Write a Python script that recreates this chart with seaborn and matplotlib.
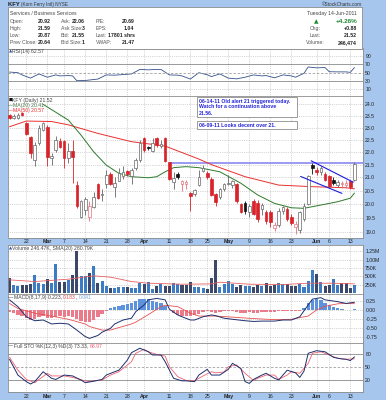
import numpy as np
import matplotlib
matplotlib.use("Agg")
import matplotlib.pyplot as plt
from matplotlib.patches import Rectangle
from matplotlib.ticker import FixedLocator, NullLocator, FixedFormatter
import seaborn as sns

sns.set_theme(style="white")
plt.rcParams['font.family'] = ['Liberation Sans', 'DejaVu Sans']

# ---------------- data ----------------
tick_pos = [4, 9, 13, 18, 23, 28, 32, 38, 43, 47, 52, 57, 62, 67, 73, 76, 81]
tick_labels = ["22", "Mar", "7", "14", "21", "28", "Apr", "11", "18", "25",
               "May", "9", "16", "23", "Jun", "6", "13"]
month_names = ["Mar", "Apr", "May", "Jun"]

opens = [23.53, 23.42, 23.42, 23.62, 23.18, 22.61, 21.69, 22.36, 22.90, 23.04,
         21.75, 22.08, 22.44, 22.44, 21.75, 22.04, 20.71, 19.54, 19.78, 19.54,
         19.90, 20.74, 20.33, 20.74, 21.15, 20.62, 20.87, 21.07, 21.24, 21.05,
         21.38, 21.69, 22.55, 22.20, 22.05, 22.55, 22.24, 22.55, 21.60, 20.82,
         21.15, 20.77, 20.77, 20.42, 20.37, 20.70, 21.25, 21.18, 20.95, 20.36,
         20.26, 20.55, 20.74, 20.70, 20.75, 20.00, 20.05, 19.72, 20.12, 20.05,
         19.82, 19.72, 19.70, 19.15, 19.24, 19.75, 19.82, 19.55, 19.20, 19.07,
         19.47, 20.02, 21.50, 21.27, 21.20, 21.12, 21.05, 20.92, 20.70, 20.74,
         20.73, 20.85, 20.92]
highs = [23.58, 23.60, 23.62, 23.68, 23.22, 22.65, 22.40, 23.10, 23.25, 23.10,
         21.95, 22.65, 22.55, 22.50, 22.35, 22.50, 20.85, 20.15, 20.25, 20.12,
         20.45, 20.80, 20.57, 21.30, 21.20, 21.00, 21.35, 21.45, 21.30, 21.35,
         21.75, 22.50, 22.62, 22.25, 22.57, 22.60, 22.50, 22.60, 21.62, 21.20,
         21.20, 20.90, 20.90, 20.45, 20.58, 21.30, 21.50, 21.25, 21.00, 20.40,
         20.60, 20.80, 21.10, 20.90, 20.80, 20.05, 20.10, 20.00, 20.18, 20.15,
         20.05, 19.80, 19.78, 19.35, 19.85, 19.95, 19.90, 19.65, 19.40, 19.75,
         20.05, 21.10, 21.58, 21.40, 21.45, 21.20, 21.10, 21.00, 20.90, 20.85,
         20.90, 20.90, 21.59]
lows = [23.35, 23.35, 23.38, 23.48, 22.70, 21.75, 21.45, 22.30, 22.85, 21.45,
        21.50, 22.00, 22.15, 21.38, 21.55, 20.80, 19.85, 19.50, 19.60, 19.39,
        19.85, 20.20, 20.10, 20.60, 20.70, 20.26, 20.85, 20.95, 21.05, 20.75,
        21.30, 21.60, 22.00, 22.10, 22.00, 22.20, 22.15, 21.60, 20.90, 20.55,
        20.95, 20.50, 20.55, 19.77, 20.30, 20.68, 21.20, 20.95, 20.30, 19.95,
        20.20, 20.50, 20.70, 20.60, 20.05, 19.68, 19.65, 19.55, 19.60, 19.35,
        19.60, 19.30, 19.20, 19.05, 19.20, 19.65, 19.40, 19.25, 18.95, 18.98,
        19.40, 19.98, 21.15, 21.10, 21.10, 20.85, 20.62, 20.70, 20.62, 20.60,
        20.60, 20.55, 20.87]
closes = [23.40, 23.50, 23.55, 23.52, 22.74, 21.96, 22.28, 23.00, 23.18, 21.82,
          21.85, 22.48, 22.22, 21.77, 22.04, 21.80, 19.92, 20.12, 20.19, 19.95,
          20.26, 20.24, 20.37, 21.11, 20.74, 20.80, 21.18, 21.22, 21.13, 21.27,
          21.69, 22.36, 22.08, 22.16, 22.36, 22.28, 22.34, 21.65, 20.95, 20.98,
          21.03, 20.86, 20.84, 20.32, 20.51, 21.03, 21.35, 21.02, 20.35, 20.08,
          20.55, 20.74, 20.80, 20.85, 20.10, 19.72, 19.75, 19.92, 19.65, 19.48,
          19.97, 19.38, 19.35, 19.24, 19.77, 19.88, 19.47, 19.33, 19.28, 19.70,
          19.95, 21.05, 21.37, 21.22, 21.38, 20.92, 20.67, 20.80, 20.84, 20.80,
          20.79, 20.64, 21.52]
volumes_k = [450, 250, 210, 250, 260, 270, 530, 320, 270, 430,
             320, 870, 350, 330, 400, 550, 1270, 520, 500, 600,
             820, 320, 380, 220, 150, 170, 180, 200, 190, 170,
             160, 300, 270, 350, 130, 230, 270, 220, 230, 300,
             280, 260, 250, 340, 190, 180, 150, 140, 460, 980,
             200, 270, 370, 280, 200, 250, 230, 210, 200, 260,
             220, 300, 210, 250, 300, 270, 270, 230, 220, 280,
             200, 370, 680, 580, 330, 230, 250, 420, 240, 320,
             310, 150, 246]

ma20_x = [8, 14, 17, 20, 23, 26, 29, 33, 35, 37, 39, 42, 45, 50, 55, 59, 63, 67, 70, 74, 78, 81, 82]
ma20_y = [24.0, 23.32, 22.69, 22.01, 21.48, 21.16, 21.03, 20.99, 21.03, 21.22, 21.38, 21.42,
          21.38, 21.22, 20.78, 20.34, 20.03, 19.87, 19.85, 19.97, 20.09, 20.22, 20.41]
ma50_x = [0, 4, 10, 14, 21, 29, 37, 45, 48, 56, 64, 72, 80, 82]
ma50_y = [23.04, 23.28, 23.26, 23.12, 22.76, 22.42, 22.24, 21.72, 21.5, 21.03, 20.71, 20.65, 20.61, 20.57]

rsi_x = [0, 2, 3, 5, 7, 9, 11, 12, 14, 15, 16, 18, 21, 23, 25, 27, 29, 31, 33, 35, 36, 38,
         40, 41, 43, 45, 47, 48, 50, 52, 54, 56, 58, 60, 61, 63, 65, 67, 68, 70, 71, 73,
         75, 76, 78, 80, 81, 82]
rsi_y = [51.6, 50, 44.6, 36.8, 47, 39, 44.6, 42.2, 43, 42.2, 30.5, 31, 34.5, 44.6, 44, 45.5,
         47, 58, 57, 58, 58, 44.6, 44, 42.2, 34.5, 50, 45, 40.6, 47, 36.8, 35, 39, 44.6,
         42.2, 43, 37.6, 44.6, 42.2, 39, 48.5, 64, 61.8, 62.6, 52.4, 52, 52, 50.8, 62.57]

vsma_x = [0, 6, 14, 20, 24, 29, 33, 41, 48, 50, 57, 65, 71, 77, 82]
vsma_y = [400, 350, 420, 520, 480, 350, 300, 270, 280, 330, 270, 260, 300, 300, 280.79]

macd_x = [0, 2, 4, 6, 8, 10, 12, 14, 16, 18, 19, 21, 22, 24, 25, 27, 29, 30, 32, 33, 35,
          37, 38, 40, 41, 43, 44, 46, 48, 49, 51, 53, 56, 58, 60, 63, 65, 67, 69, 71, 72,
          74, 75, 78, 80, 82]
macd_y = [0.29, 0.10, -0.18, -0.29, -0.27, -0.38, -0.36, -0.38, -0.55, -0.73, -0.78, -0.70,
          -0.61, -0.50, -0.38, -0.27, -0.22, -0.04, 0.15, 0.29, 0.33, 0.29, 0.03, -0.13,
          -0.18, -0.27, -0.27, -0.18, -0.13, -0.15, -0.22, -0.25, -0.29, -0.31, -0.30,
          -0.30, -0.27, -0.27, -0.18, 0.15, 0.31, 0.35, 0.29, 0.24, 0.19, 0.223]
sig_x = [0, 2, 6, 10, 14, 18, 19, 22, 24, 26, 29, 30, 33, 36, 37, 40, 43, 45, 49, 53, 58,
         63, 67, 71, 73, 75, 78, 80, 82]
sig_y = [0.19, 0.05, -0.08, -0.16, -0.25, -0.38, -0.45, -0.55, -0.55, -0.48, -0.38, -0.33,
         -0.12, 0.10, 0.14, 0.10, -0.08, -0.16, -0.16, -0.19, -0.23, -0.26, -0.25, -0.16,
         0.01, 0.11, 0.18, 0.19, 0.183]
macd_hist = [-0.06, -0.08, -0.12, -0.15, -0.22, -0.28, -0.25, -0.20, -0.17, -0.21,
             -0.22, -0.18, -0.17, -0.20, -0.17, -0.18, -0.25, -0.30, -0.33, -0.33,
             -0.28, -0.20, -0.10, -0.02, 0.05, 0.09, 0.13, 0.16, 0.17, 0.19,
             0.25, 0.30, 0.32, 0.31, 0.27, 0.24, 0.20, 0.12, 0.0, -0.08,
             -0.12, -0.15, -0.16, -0.17, -0.14, -0.10, -0.05, -0.03, -0.05, -0.07,
             -0.05, -0.03, -0.02, -0.03, -0.05, -0.07, -0.07, -0.06, -0.07, -0.08,
             -0.05, -0.05, -0.05, -0.04, -0.02, -0.01, -0.02, -0.02, -0.02, -0.01,
             0.05, 0.20, 0.28, 0.30, 0.28, 0.20, 0.14, 0.10, 0.07, 0.04,
             0.02, 0.02, 0.041]

stok_x = [0, 2, 4, 5, 6, 8, 10, 11, 13, 15, 17, 18, 20, 22, 23, 25, 26, 28, 29, 31, 33, 34,
          36, 37, 39, 41, 42, 44, 45, 47, 48, 50, 52, 53, 55, 56, 57, 58, 60, 61, 63, 64,
          66, 68, 69, 70, 71, 73, 75, 77, 79, 80, 81, 82]
stok_y = [67.9, 32, 17, 11.6, 17, 39.6, 24.6, 22, 32, 30, 20.7, 14.6, 18, 22, 32, 39.6, 43,
          66, 83, 93, 85, 77.7, 77.7, 62.4, 24.6, 18.8, 18.8, 17, 32, 45, 32, 32, 45, 58.7,
          47, 17, 13, 22, 32, 36, 24.6, 21, 43, 37, 26.6, 41, 81.5, 87.5, 85, 72.4, 68.7,
          68, 65, 73.33]
stod_x = [0, 2, 4, 6, 7, 9, 10, 13, 15, 18, 19, 22, 24, 26, 29, 30, 32, 33, 35, 37, 38, 40,
          42, 44, 46, 48, 49, 51, 52, 54, 56, 58, 59, 61, 63, 64, 66, 67, 69, 71, 72, 74,
          76, 78, 80, 82]
stod_y = [72.5, 43, 22, 14.6, 22, 36, 30, 30, 26.6, 18.8, 17, 20.7, 32, 39.6, 62.4, 81.5,
          90.8, 85, 79, 75.3, 51, 28.3, 19.6, 19, 30, 39.6, 37, 39, 51, 55, 36, 19.6, 24.6,
          32, 32, 22, 32, 39.6, 36, 58.7, 81.5, 85, 77.7, 70, 68, 68.97]

alert_level = 21.56
alert_start = 38
flag_up_x = [71.7, 81.7]
flag_up_y = [21.65, 20.82]
flag_lo_x = [69.2, 79.0]
flag_lo_y = [21.04, 20.40]

price_ticks = [19.0, 19.5, 20.0, 20.5, 21.0, 21.5, 22.0, 22.5, 23.0, 23.5, 24.0]
vol_ticks = [250, 500, 750, 1000, 1250]
vol_tick_labels = ["250K", "500K", "750K", "1.00M", "1.25M"]
macd_ticks = [0.25, 0.0, -0.25, -0.5, -0.75]
rsi_ticks = [90, 70, 50, 30, 10]
sto_ticks = [80, 50, 20]

# ---------------- layout ----------------
W, H = 386, 400
BLUE = '#a6c6ee'
fig = plt.figure(figsize=(W / 100, H / 100), dpi=100)
fig.patch.set_facecolor(BLUE)

X0, X1 = 7.5, 362.5
PX0, PXD = 9.5, 4.207
XL = ((X0 - PX0) / PXD, (X1 - PX0) / PXD)
FS = 3.7
TXT = '#222222'
GRID = '#b0b0b0'


def fx(x):
    return x / W


def fy(y):
    return 1 - y / H


def panel(top, bot):
    ax = fig.add_axes([fx(X0), fy(bot), (X1 - X0) / W, (bot - top) / H])
    ax.set_facecolor('white')
    for s in ax.spines.values():
        s.set_color('#8c8c8c')
        s.set_linewidth(0.6)
    ax.set_axisbelow(True)
    return ax


def finish(ax, yticks, ylabels, ylim, xlabels=False):
    ax.set_xlim(*XL)
    ax.set_ylim(*ylim)
    ax.set_xlabel('')
    ax.set_ylabel('')
    ax.xaxis.set_major_locator(FixedLocator(tick_pos))
    ax.xaxis.set_minor_locator(NullLocator())
    ax.yaxis.set_major_locator(FixedLocator(yticks))
    ax.yaxis.set_minor_locator(NullLocator())
    ax.yaxis.set_major_formatter(FixedFormatter(ylabels))
    ax.yaxis.tick_right()
    ax.tick_params(axis='both', which='both', length=0, labelsize=FS, colors=TXT, pad=2)
    ax.grid(axis='x', color=GRID, ls=':', lw=0.5)
    if xlabels:
        ax.set_xticklabels(tick_labels)
        ax.tick_params(axis='x', labelbottom=True, pad=1.3)
        for lab in ax.get_xticklabels():
            if lab.get_text() in month_names:
                lab.set_fontweight('bold')
    else:
        ax.tick_params(axis='x', labelbottom=False)


def ftext(x, y, s, **kw):
    kw.setdefault('fontsize', FS)
    kw.setdefault('va', 'center')
    kw.setdefault('color', TXT)
    return fig.text(fx(x), fy(y), s, **kw)


def seq_text(x, y, pieces, **kw):
    r = fig.canvas.get_renderer()
    for piece in pieces:
        s, col = piece[0], piece[1]
        extra = dict(kw)
        if len(piece) > 2:
            extra.update(piece[2])
        t = ftext(x, y, s, color=col, **extra)
        x += t.get_window_extent(renderer=r).width


n = len(closes)
xi = np.arange(n)
o = np.array(opens)
c = np.array(closes)
hi = np.array(highs)
lo = np.array(lows)
prev = np.r_[o[0], c[:-1]]
up = c >= prev

# ---------------- header & info box ----------------
seq_text(7.5, 4.2, [("KFY ", '#1a1a1a', dict(fontweight='bold', fontsize=4.2)),
                    ("(Korn Ferry Intl) NYSE", '#333333', dict(fontsize=3.3))])
ftext(361.5, 4.2, "\u00a9StockCharts.com", fontsize=3.4, ha='right', color='#333333')

fig.patches.append(Rectangle((fx(7.5), fy(48.5)), (362 - 7.5) / W, (48.5 - 7.5) / H,
                             transform=fig.transFigure, facecolor='white',
                             edgecolor='#8c8c8c', lw=0.6, zorder=0))
ftext(10, 13.8, "Services / Business Services", color='#444444')
rows_y = [21.7, 28.7, 35.7, 42.7]
col1 = [("Open:", "20.92"), ("High:", "21.59"), ("Low:", "20.87"), ("Prev Close:", "20.64")]
col2 = [("Ask:", "22.06"), ("Ask Size:", "3"), ("Bid:", "21.55"), ("Bid Size:", "1")]
col3 = [("P/E:", "20.69"), ("EPS:", "1.04"), ("Last:", "17801 shrs"), ("VWAP:", "21.47")]
for yy, (a, b), (d, e), (f, g) in zip(rows_y, col1, col2, col3):
    ftext(10, yy, a, color='#555555')
    ftext(51, yy, b, ha='right', fontweight='bold')
    ftext(61, yy, d, color='#555555')
    ftext(84.5, yy, e, ha='right', fontweight='bold')
    ftext(96, yy, f, color='#555555')
    ftext(134.5, yy, g, ha='right', fontweight='bold')
ftext(357, 13.8, "Tuesday 14-Jun-2011", ha='right', color='#444444')
ftext(316, 21.5, "\u25b2", color='#1e8a2e', fontsize=4.2, ha='center',
      family=['DejaVu Sans'])
ftext(357, 21.5, "+4.26%", ha='right', color='#1e8a2e', fontweight='bold', fontsize=4.6)
ftext(310, 28.7, "Chg:", color='#555555')
ftext(357, 28.7, "+0.88", ha='right', fontweight='bold')
ftext(310, 35.7, "Last:", color='#555555')
ftext(357, 35.7, "21.52", ha='right', fontweight='bold')
ftext(306, 42.7, "Volume:", color='#555555')
ftext(357, 42.7, "246,474", ha='right', fontweight='bold')

# ---------------- RSI ----------------
axr = panel(48.5, 96)
sns.lineplot(x=rsi_x, y=rsi_y, ax=axr, color='#33508a', lw=0.6)
axr.axhline(70, color='#8a8a8a', lw=0.6)
axr.axhline(30, color='#8a8a8a', lw=0.6)
axr.axhline(50, color='#a0a0a0', lw=0.6, ls=(0, (3, 2)))
for v in (90, 10):
    axr.axhline(v, color=GRID, lw=0.5, ls=':')
finish(axr, rsi_ticks, [str(v) for v in rsi_ticks], (-6.8, 109))
ftext(8.5, 51.5, "\u25b2", color='#2a55b0', fontsize=3.0, family=['DejaVu Sans'])
ftext(12, 51.5, "RSI(14) 62.57", color='#444444')

# ---------------- Price ----------------
axp = panel(96, 237.5)
axp.set_yscale('log')
axp.hlines(alert_level, alert_start, XL[1], color='#9a9af2', lw=1.4, zorder=1.5)
sns.lineplot(x=ma50_x, y=ma50_y, ax=axp, color='#e8302e', lw=0.7, zorder=2)
sns.lineplot(x=ma20_x, y=ma20_y, ax=axp, color='#2c7a2c', lw=0.7, zorder=2)

face, edge = [], []
for i in range(n):
    if c[i] > o[i]:
        face.append('white')
        edge.append('#666666' if up[i] else '#e8707a')
    else:
        col = '#111111' if up[i] else '#d8232a'
        face.append(col)
        edge.append(col)
axp.vlines(xi, lo, hi, colors=edge, lw=0.6, zorder=3)
body_lo = np.minimum(o, c)
body_h = np.maximum(np.abs(c - o), 0.025)
axp.bar(xi, body_h, bottom=body_lo, width=0.62, color=face, edgecolor=edge, lw=0.5, zorder=4)
sns.lineplot(x=flag_up_x, y=flag_up_y, ax=axp, color='#1c1ce0', lw=0.8, zorder=5)
sns.lineplot(x=flag_lo_x, y=flag_lo_y, ax=axp, color='#1c1ce0', lw=0.8, zorder=5)
finish(axp, price_ticks, [f"{v:.1f}" for v in price_ticks], (18.82, 24.37), xlabels=True)
axp.grid(axis='y', color=GRID, ls=':', lw=0.5)

ftext(8.5, 100.2, "\u25a0", color='#111111', fontsize=3.0, family=['DejaVu Sans'])
ftext(12, 100.2, "KFY (Daily) 21.52", color='#444444')
ftext(8.5, 105.7, "\u2014", color='#2c7a2c', fontsize=3.4)
ftext(13, 105.7, "MA(20) 20.41", color='#4d7a4d')
ftext(8.5, 110.8, "\u2014", color='#e8302e', fontsize=3.4)
ftext(13, 110.8, "MA(50) 20.57", color='#e8302e')

# annotation boxes
for (bx0, by0, bx1, by1) in [(196.5, 97.3, 296.5, 117.0), (196.5, 121.0, 296.5, 129.2)]:
    fig.patches.append(Rectangle((fx(bx0), fy(by1)), (bx1 - bx0) / W, (by1 - by0) / H,
                                 transform=fig.transFigure, facecolor='white',
                                 edgecolor='#8c8c8c', lw=0.6, zorder=5))
note_kw = dict(color='#2424d8', fontweight='bold', zorder=6)
ftext(198.5, 101.0, "06-14-11 Old alert 21 triggered today.", **note_kw)
ftext(198.5, 107.0, "Watch for a continuation above", **note_kw)
ftext(198.5, 113.2, "21.56.", **note_kw)
ftext(198.5, 125.1, "06-09-11 Looks decent over 21.", **note_kw)

# ---------------- Volume ----------------
axv = panel(244.5, 293.8)
vcols = ['#3d7cc2' if u else '#3c486a' for u in up]
axv.bar(xi, volumes_k, width=0.72, color=vcols, edgecolor='none', zorder=2)
sns.lineplot(x=vsma_x, y=vsma_y, ax=axv, color='#e86060', lw=0.6, zorder=3)
finish(axv, vol_ticks, vol_tick_labels, (-15, 1452))
axv.grid(axis='y', color=GRID, ls=':', lw=0.5)
ftext(8.5, 248.3, "\u25b2", color='#2a55b0', fontsize=3.0, family=['DejaVu Sans'])
ftext(12, 248.3, "Volume 246.47K, SMA(20) 280.79K", color='#444444')

# ---------------- MACD ----------------
axm = panel(293.8, 343.3)
hcols = ['#5d92dc' if v >= 0 else '#ea7b8a' for v in macd_hist]
axm.bar(xi, macd_hist, width=0.8, color=hcols, edgecolor='none', zorder=2)
sns.lineplot(x=sig_x, y=sig_y, ax=axm, color='#e85050', lw=0.6, zorder=3)
sns.lineplot(x=macd_x, y=macd_y, ax=axm, color='#1e2f6e', lw=0.7, zorder=4)
finish(axm, macd_ticks, ["0.25", "0.00", "-0.25", "-0.50", "-0.75"], (-0.917, 0.458))
axm.grid(axis='y', color=GRID, ls=':', lw=0.5)
seq_text(8.5, 297.7, [("\u2014", '#1e2f6e'), ("MACD(8,17,9) 0.223, ", '#444444'),
                      ("0.183", '#e85050'), (", ", '#444444'), ("0.041", '#7aa5e8')])

# ---------------- Full STO ----------------
axs = panel(343.3, 391.7)
axs.axhline(80, color='#8a8a8a', lw=0.6)
axs.axhline(20, color='#8a8a8a', lw=0.6)
axs.axhline(50, color='#a0a0a0', lw=0.6, ls=(0, (3, 2)))
sns.lineplot(x=stod_x, y=stod_y, ax=axs, color='#ee6070', lw=0.6, zorder=3)
sns.lineplot(x=stok_x, y=stok_y, ax=axs, color='#1e2f6e', lw=0.7, zorder=4)
finish(axs, sto_ticks, [str(v) for v in sto_ticks], (-5.9, 104.3), xlabels=True)
seq_text(8.5, 346.2, [("\u2014", '#1e2f6e'), ("Full STO %K(12,3) %D(3) 73.33, ", '#444444'),
                      ("68.97", '#ee6070')])

fig.savefig("out.png", dpi=100, facecolor=fig.get_facecolor())
